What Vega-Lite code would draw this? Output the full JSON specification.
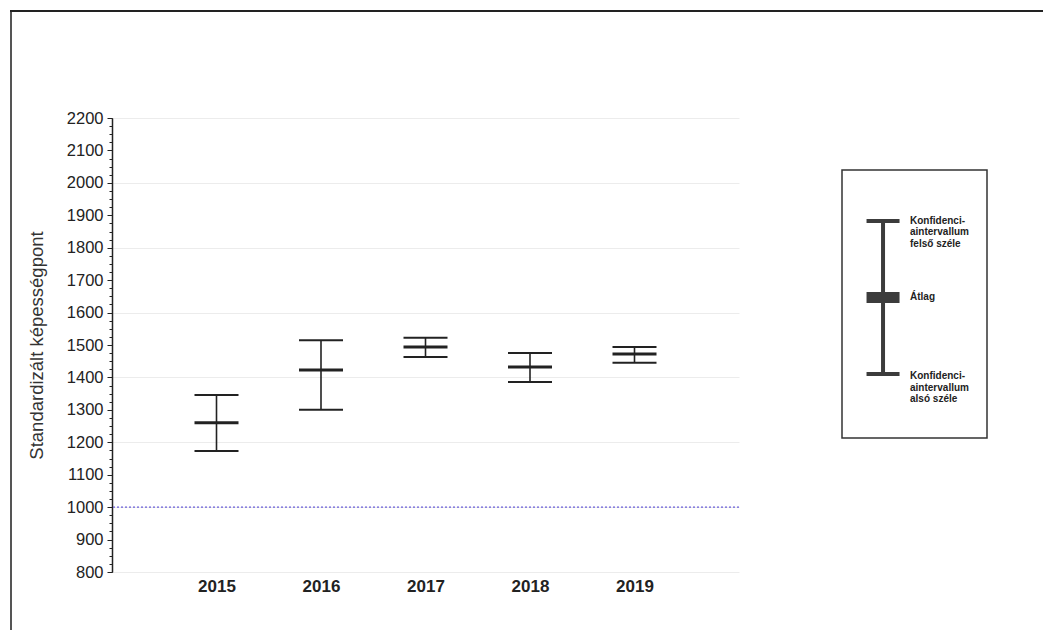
{
  "$schema": "https://vega.github.io/schema/vega-lite/v6.json",
  "padding": {"left": 10, "top": 10, "right": 0, "bottom": 0},
  "config": {"view": {"stroke": null}, "font": "Liberation Sans"},
  "datasets": {
    "eredmenyek": [
      {"ev": 2015, "also": 1173, "atlag": 1260, "felso": 1346},
      {"ev": 2016, "also": 1300, "atlag": 1423, "felso": 1515},
      {"ev": 2017, "also": 1463, "atlag": 1494, "felso": 1522},
      {"ev": 2018, "also": 1386, "atlag": 1432, "felso": 1475},
      {"ev": 2019, "also": 1445, "atlag": 1472, "felso": 1494}
    ],
    "jel": [{"also": 23.9, "atlag": 52.4, "felso": 81}],
    "feliratok": [
      {"ertek": 81, "felirat": "Konfidenci-\naintervallum\nfelső széle"},
      {"ertek": 52.6, "felirat": "Átlag"},
      {"ertek": 23.1, "felirat": "Konfidenci-\naintervallum\nalsó széle"}
    ]
  },
  "spacing": 0,
  "vconcat": [
    {
      "width": 1033, "height": 2,
      "data": {"values": [{}]},
      "mark": {"type": "rect", "color": "#222", "opacity": 1},
      "encoding": {}
    },
    {
      "spacing": 15,
      "hconcat": [
        {
          "width": 2, "height": 618,
          "data": {"values": [{}]},
          "mark": {"type": "rect", "color": "#555", "opacity": 1},
          "encoding": {}
        },
        {
          "spacing": 97,
          "vconcat": [
            {
              "width": 1, "height": 1,
              "data": {"values": [{}]},
              "mark": {"type": "rect", "opacity": 0},
              "encoding": {}
            },
            {
              "width": 627, "height": 454,
              "data": {"name": "eredmenyek"},
              "resolve": {"axis": {"y": "independent"}},
              "encoding": {
                "x": {"field": "ev", "type": "quantitative",
                  "scale": {"domain": [2014, 2020], "nice": false, "zero": false},
                  "axis": {"values": [2015, 2016, 2017, 2018, 2019], "format": "d", "title": null, "ticks": false, "domain": false, "grid": false, "labelFontSize": 17, "labelFontWeight": "bold", "labelColor": "#222", "labelPadding": 6, "labelFlush": false}}
              },
              "layer": [
                {
                  "mark": {"type": "rule", "color": "#222", "strokeWidth": 1.6},
                  "encoding": {
                    "y": {"field": "also", "type": "quantitative",
                      "scale": {"domain": [800, 2200], "nice": false, "zero": false},
                      "axis": {
                        "orient": "left",
                        "title": "Standardizált képességpont",
                        "values": [800,900,1000,1100,1200,1300,1400,1500,1600,1700,1800,1900,2000,2100,2200],
                        "format": "d",
                        "labelOverlap": false,
                        "tickSize": 5,
                        "tickColor": "#222", "tickWidth": 1,
                        "domainColor": "#222", "domainWidth": 1.5,
                        "grid": false,
                        "labelFontSize": 16.5, "labelColor": "#222", "labelPadding": 4,
                        "titleFontSize": 18.5, "titleFontWeight": "normal", "titleColor": "#333", "titlePadding": 20
                      }},
                    "y2": {"field": "felso"}
                  }
                },
                {
                  "mark": {"type": "tick", "orient": "horizontal", "size": 44, "thickness": 2, "color": "#222", "opacity": 1},
                  "encoding": {"y": {"field": "felso", "type": "quantitative",
                    "axis": {"orient": "left", "title": null, "labels": false, "domain": false, "grid": false, "tickSize": 3, "tickColor": "#222", "tickWidth": 1,
                      "values": [800,825,850,875,900,925,950,975,1000,1025,1050,1075,1100,1125,1150,1175,1200,1225,1250,1275,1300,1325,1350,1375,1400,1425,1450,1475,1500,1525,1550,1575,1600,1625,1650,1675,1700,1725,1750,1775,1800,1825,1850,1875,1900,1925,1950,1975,2000,2025,2050,2075,2100,2125,2150,2175,2200]}}}
                },
                {
                  "mark": {"type": "tick", "orient": "horizontal", "size": 44, "thickness": 2, "color": "#222", "opacity": 1},
                  "encoding": {"y": {"field": "also", "type": "quantitative",
                    "axis": {"orient": "left", "title": null, "labels": false, "domain": false, "ticks": false, "grid": true, "gridColor": "#ececec", "gridWidth": 1,
                      "values": [800, 1000, 1200, 1400, 1600, 1800, 2000, 2200]}}}
                },
                {
                  "mark": {"type": "tick", "orient": "horizontal", "size": 44, "thickness": 3, "color": "#222", "opacity": 1},
                  "encoding": {"y": {"field": "atlag", "type": "quantitative", "axis": null}}
                },
                {
                  "data": {"values": [{"referencia": 1000}]},
                  "mark": {"type": "rule", "color": "#6a5fd8", "strokeDash": [2, 2], "strokeWidth": 1.2, "opacity": 1},
                  "encoding": {"x": null, "y": {"field": "referencia", "type": "quantitative", "axis": null}}
                }
              ]
            }
          ]
        },
        {
          "spacing": 156,
          "vconcat": [
            {
              "width": 1, "height": 1,
              "data": {"values": [{}]},
              "mark": {"type": "rect", "opacity": 0},
              "encoding": {}
            },
            {
              "width": 145, "height": 268,
              "view": {"stroke": "#333", "strokeWidth": 1.5},
              "layer": [
                {
                  "data": {"name": "jel"},
                  "mark": {"type": "rule", "color": "#3c3c3c", "strokeWidth": 4},
                  "encoding": {
                    "x": {"datum": "jel", "type": "nominal", "scale": {"type": "point", "padding": 0.5, "align": 0.283}, "axis": null},
                    "y": {"field": "also", "type": "quantitative", "scale": {"domain": [0, 100], "nice": false},
                      "axis": {"title": " ", "titlePadding": 80, "titleFontSize": 6, "labels": false, "ticks": false, "domain": false, "grid": false}},
                    "y2": {"field": "felso"}
                  }
                },
                {
                  "data": {"name": "jel"},
                  "mark": {"type": "tick", "orient": "horizontal", "size": 33, "thickness": 4, "color": "#3c3c3c", "opacity": 1},
                  "encoding": {"x": {"datum": "jel", "type": "nominal"}, "y": {"field": "felso", "type": "quantitative"}}
                },
                {
                  "data": {"name": "jel"},
                  "mark": {"type": "tick", "orient": "horizontal", "size": 33, "thickness": 4, "color": "#3c3c3c", "opacity": 1},
                  "encoding": {"x": {"datum": "jel", "type": "nominal"}, "y": {"field": "also", "type": "quantitative"}}
                },
                {
                  "data": {"name": "jel"},
                  "mark": {"type": "tick", "orient": "horizontal", "size": 33, "thickness": 11, "color": "#3c3c3c", "opacity": 1},
                  "encoding": {"x": {"datum": "jel", "type": "nominal"}, "y": {"field": "atlag", "type": "quantitative"}}
                },
                {
                  "data": {"name": "feliratok"},
                  "mark": {"type": "text", "align": "left", "baseline": "middle", "dx": 27, "fontSize": 10, "fontWeight": "bold", "lineBreak": "\n", "lineHeight": 11.5, "color": "#222"},
                  "encoding": {"x": {"datum": "jel", "type": "nominal"}, "y": {"field": "ertek", "type": "quantitative"}, "text": {"field": "felirat"}}
                }
              ]
            }
          ]
        }
      ]
    }
  ]
}
